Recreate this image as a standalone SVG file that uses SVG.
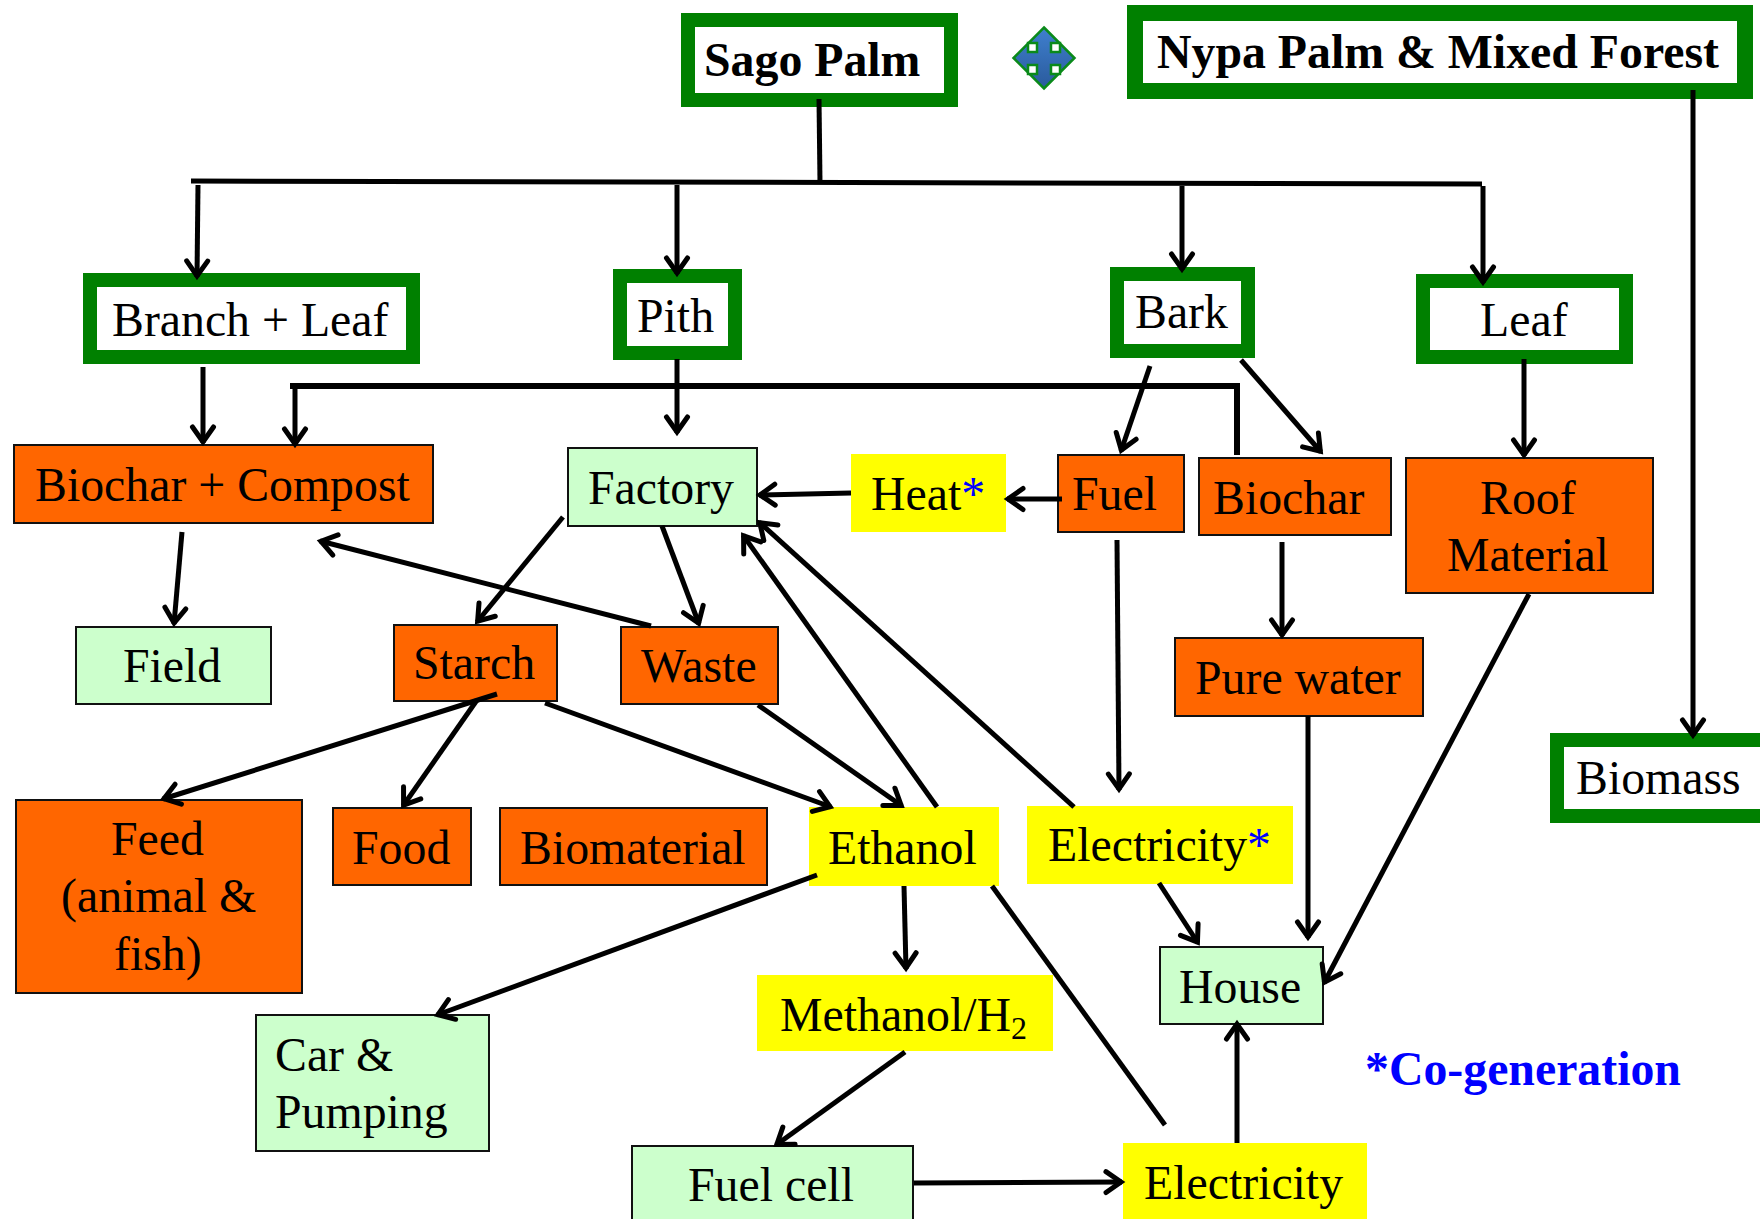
<svg xmlns="http://www.w3.org/2000/svg" width="1760" height="1219" viewBox="0 0 1760 1219">
<style>
text{font-family:"Liberation Serif","Times New Roman",serif;font-size:47.8px;fill:#000}
.b{font-weight:bold}
.blue{fill:#0000ff}
.g{fill:#fff;stroke:#008000;stroke-width:14}
.o{fill:#ff6600;stroke:#111;stroke-width:2}
.l{fill:#ccffcc;stroke:#111;stroke-width:2}
.y{fill:#ffff00}
#connectors line,#connectors polyline{stroke:#000;stroke-width:5;fill:none}
.a{marker-end:url(#arrow)}
</style>
<defs>
<marker id="arrow" markerUnits="userSpaceOnUse" markerWidth="30" markerHeight="30" refX="22" refY="15" orient="auto" viewBox="0 0 30 30">
<polyline points="6,4.5 21,15 6,25.5" fill="none" stroke="#000" stroke-width="5" stroke-linecap="round"/>
</marker>
<linearGradient id="ic" x1="0" y1="0" x2="0" y2="1"><stop offset="0" stop-color="#3f80cf"/><stop offset="1" stop-color="#2a5a9c"/></linearGradient>
</defs>
<g id="sago"><rect class="g" x="688" y="20" width="263" height="80"/><text class="b" x="704" y="76">Sago Palm</text></g>
<g id="icon"><polygon points="1044,27.500 1074.500,58 1044,88.500 1013.500,58" fill="url(#ic)" stroke="#0a8a1a" stroke-width="2.500"/>
<g fill="#fff" stroke="#0a8a1a" stroke-width="2.500"><rect x="1028" y="43" width="9" height="9"/><rect x="1051" y="43" width="9" height="9"/><rect x="1028" y="65" width="9" height="9"/><rect x="1051" y="65" width="9" height="9"/></g></g>
<g id="nypa"><rect x="1135" y="13" width="610" height="78" fill="#fff" stroke="#008000" stroke-width="16"/><text class="b" x="1157" y="68">Nypa Palm &amp; Mixed Forest</text></g>
<g id="branch"><rect class="g" x="90" y="280" width="323" height="77"/><text x="112" y="335.500">Branch + Leaf</text></g>
<g id="pith"><rect class="g" x="620" y="276" width="115" height="77"/><text x="637" y="332">Pith</text></g>
<g id="bark"><rect class="g" x="1117" y="274" width="131" height="77"/><text x="1135" y="328">Bark</text></g>
<g id="leaf"><rect class="g" x="1423" y="281" width="203" height="76"/><text x="1480" y="335.500">Leaf</text></g>
<g id="biomass"><rect class="g" x="1557" y="740" width="210" height="76"/><text x="1576" y="794">Biomass</text></g>
<g id="biochar-compost"><rect class="o" x="14" y="445" width="419" height="78"/><text x="35" y="500.500">Biochar + Compost</text></g>
<g id="factory"><rect class="l" x="568" y="448" width="189" height="78"/><text x="588" y="504">Factory</text></g>
<g id="heat"><rect class="y" x="851" y="454" width="155" height="78"/><text x="871" y="510">Heat<tspan class="blue">*</tspan></text></g>
<g id="fuel"><rect class="o" x="1058" y="455" width="126" height="77"/><text x="1072" y="510">Fuel</text></g>
<g id="biochar"><rect class="o" x="1199" y="458" width="192" height="77"/><text x="1213" y="514">Biochar</text></g>
<g id="roof"><rect class="o" x="1406" y="458" width="247" height="135"/><text x="1480" y="514">Roof</text><text x="1447" y="571">Material</text></g>
<g id="field"><rect class="l" x="76" y="627" width="195" height="77"/><text x="123" y="682">Field</text></g>
<g id="starch"><rect class="o" x="394" y="625" width="163" height="76"/><text x="413" y="679">Starch</text></g>
<g id="waste"><rect class="o" x="621" y="627" width="157" height="77"/><text x="641" y="682">Waste</text></g>
<g id="pure"><rect class="o" x="1175" y="638" width="248" height="78"/><text x="1195" y="694">Pure water</text></g>
<g id="feed"><rect class="o" x="16" y="800" width="286" height="193"/><text x="111" y="855">Feed</text><text x="61" y="912">(animal &amp;</text><text x="114" y="970">fish)</text></g>
<g id="food"><rect class="o" x="333" y="808" width="138" height="77"/><text x="352" y="863.500">Food</text></g>
<g id="biomaterial"><rect class="o" x="500" y="808" width="267" height="77"/><text x="520" y="863.500">Biomaterial</text></g>
<g id="ethanol"><rect class="y" x="809" y="807" width="190" height="79"/><text x="828" y="863.500">Ethanol</text></g>
<g id="electricity-co"><rect class="y" x="1027" y="806" width="266" height="78"/><text x="1048" y="861">Electricity<tspan class="blue">*</tspan></text></g>
<g id="house"><rect class="l" x="1160" y="947" width="163" height="77"/><text x="1179" y="1003">House</text></g>
<g id="methanol"><rect class="y" x="757" y="975" width="296" height="76"/><text x="780" y="1031">Methanol/H<tspan font-size="32" dy="8">2</tspan></text></g>
<g id="car"><rect class="l" x="256" y="1015" width="233" height="136"/><text x="275" y="1071">Car &amp;</text><text x="275" y="1128">Pumping</text></g>
<g id="fuelcell"><rect class="l" x="632" y="1146" width="281" height="80"/><text x="688" y="1201">Fuel cell</text></g>
<g id="electricity"><rect class="y" x="1123" y="1143" width="244" height="76"/><text x="1144" y="1199">Electricity</text></g>
<g id="note"><text class="b blue" x="1365" y="1085">*Co-generation</text></g>
<g id="connectors">
<line x1="819" y1="99" x2="820" y2="183"/>
<line x1="191" y1="181" x2="1482" y2="184"/>
<line class="a" x1="198" y1="185" x2="197" y2="277"/>
<line class="a" x1="677" y1="185" x2="677" y2="274"/>
<line class="a" x1="1182" y1="186" x2="1182" y2="270"/>
<line class="a" x1="1483" y1="186" x2="1483" y2="283"/>
<line class="a" x1="1693" y1="90" x2="1693" y2="736"/>
<line class="a" x1="203" y1="367" x2="203" y2="443"/>
<polyline points="1237,455 1237,386 290,386" style="stroke-width:6"/>
<line class="a" x1="295" y1="386" x2="295" y2="445"/>
<line class="a" x1="677" y1="359" x2="677" y2="433"/>
<line class="a" x1="1150" y1="366" x2="1121" y2="451"/>
<line class="a" x1="1241" y1="360" x2="1321" y2="452"/>
<line class="a" x1="1524" y1="359" x2="1524" y2="456"/>
<line class="a" x1="851" y1="493" x2="759" y2="495"/>
<line class="a" x1="1062" y1="499" x2="1007" y2="499"/>
<line class="a" x1="1282" y1="542" x2="1282" y2="636"/>
<line class="a" x1="1117" y1="540" x2="1119" y2="790"/>
<line class="a" x1="1308" y1="716" x2="1308" y2="938"/>
<line class="a" x1="1529" y1="594" x2="1324" y2="983"/>
<line class="a" x1="1159" y1="883" x2="1198" y2="943"/>
<line class="a" x1="1237" y1="1143" x2="1237" y2="1023"/>
<line class="a" x1="914" y1="1183" x2="1122" y2="1182"/>
<line class="a" x1="905" y1="1052" x2="776" y2="1145"/>
<line class="a" x1="904" y1="886" x2="906" y2="969"/>
<line class="a" x1="817" y1="875" x2="437" y2="1015"/>
<line x1="1165" y1="1125" x2="992" y2="886"/>
<line class="a" x1="937" y1="807" x2="743" y2="535"/>
<line class="a" x1="1074" y1="807" x2="759" y2="522"/>
<line class="a" x1="563" y1="517" x2="477" y2="622"/>
<line class="a" x1="662" y1="526" x2="699" y2="624"/>
<line class="a" x1="651" y1="626" x2="320" y2="541"/>
<line class="a" x1="497" y1="694" x2="163" y2="799"/>
<line class="a" x1="477" y1="700" x2="403" y2="806"/>
<line class="a" x1="545" y1="703" x2="831" y2="807"/>
<line class="a" x1="758" y1="705" x2="902" y2="806"/>
<line class="a" x1="182" y1="532" x2="174" y2="624"/>
</g>
</svg>
